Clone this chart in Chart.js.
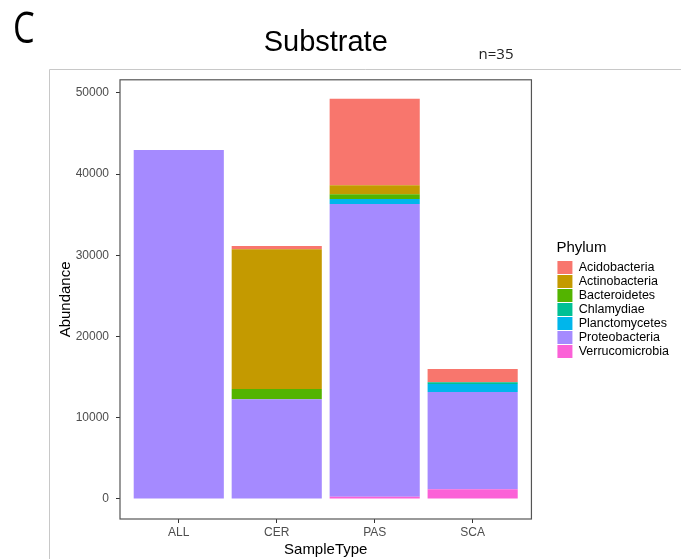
<!DOCTYPE html>
<html>
<head>
<meta charset="utf-8">
<title>Substrate</title>
<script src="https://cdn.jsdelivr.net/npm/chart.js@4.4.1/dist/chart.umd.min.js"></script>
<style>
  html, body { margin: 0; padding: 0; background: #fff; }
  #chart { display: block; }
</style>
</head>
<body>
<canvas id="chart" width="681" height="559"></canvas>
<script>
// Sample types along the x axis
const sampleTypes = ['ALL', 'CER', 'PAS', 'SCA'];

// Abundance per phylum, one value per sample type
const acidobacteria   = [0, 400, 10660, 1640];
const actinobacteria  = [0, 17220, 1100, 0];
const bacteroidetes   = [0, 1270, 575, 0];
const chlamydiae      = [0, 0, 0, 210];
const planctomycetes  = [0, 0, 620, 980];
const proteobacteria  = [42960, 12260, 36040, 11970];
const verrucomicrobia = [0, 0, 280, 1190];

const yTicks = [0, 10000, 20000, 30000, 40000, 50000];

// Listed top of stack first (legend order); drawn bottom-up below
const phyla = [
  { name: 'Acidobacteria',   values: acidobacteria,   color: '#F8766D' },
  { name: 'Actinobacteria',  values: actinobacteria,  color: '#C49A00' },
  { name: 'Bacteroidetes',   values: bacteroidetes,   color: '#53B400' },
  { name: 'Chlamydiae',      values: chlamydiae,      color: '#00C094' },
  { name: 'Planctomycetes',  values: planctomycetes,  color: '#00B6EB' },
  { name: 'Proteobacteria',  values: proteobacteria,  color: '#A58AFF' },
  { name: 'Verrucomicrobia', values: verrucomicrobia, color: '#FB61D7' },
];

Chart.defaults.font.family = "'Liberation Sans', Arial, sans-serif";

const datasets = phyla.slice().reverse().map(p => ({
  label: p.name,
  data: p.values.map((v, i) => ({ x: i + 1, y: v })),
  backgroundColor: p.color,
  borderWidth: 0,
  categoryPercentage: 1,
  barPercentage: 0.92,
}));

// White page, figure frame, panel border and the extra labels
const decorations = {
  id: 'decorations',
  beforeDraw(chart) {
    const ctx = chart.ctx;
    ctx.save();
    ctx.fillStyle = '#fff';
    ctx.fillRect(0, 0, chart.width, chart.height);
    ctx.strokeStyle = '#c8c8c8';
    ctx.lineWidth = 1;
    ctx.beginPath();
    ctx.moveTo(681, 69.5);
    ctx.lineTo(49.5, 69.5);
    ctx.lineTo(49.5, 559);
    ctx.stroke();
    ctx.restore();
  },
  afterDraw(chart) {
    const ctx = chart.ctx;
    const a = chart.chartArea;
    ctx.save();
    ctx.strokeStyle = '#555';
    ctx.lineWidth = 1.2;
    ctx.strokeRect(a.left, a.top, a.right - a.left, a.bottom - a.top);

    ctx.fillStyle = '#000';
    ctx.textBaseline = 'middle';
    ctx.save();
    ctx.translate(13, 31);
    ctx.scale(0.8, 1);
    ctx.font = "43px 'Open Sans', sans-serif";
    ctx.fillText('C', 0, 0);
    ctx.restore();

    ctx.fillStyle = '#222';
    ctx.font = "15px 'Open Sans', sans-serif";
    ctx.textAlign = 'center';
    ctx.fillText('n=35', 496, 55);
    ctx.restore();
  }
};

new Chart(document.getElementById('chart'), {
  type: 'bar',
  data: { datasets },
  plugins: [decorations],
  options: {
    responsive: false,
    animation: false,
    layout: { padding: { left: 49, right: 2, top: 0, bottom: 0 } },
    plugins: {
      title: {
        display: true,
        text: 'Substrate',
        fullSize: false,
        color: '#000',
        font: { size: 29, weight: 'normal' },
        padding: { top: 26, bottom: 19 },
      },
      legend: {
        position: 'right',
        fullSize: false,
        reverse: true,
        title: {
          display: true,
          text: 'Phylum',
          position: 'start',
          color: '#000',
          font: { size: 15 },
          padding: { top: 0, bottom: 2 },
        },
        labels: {
          boxWidth: 15,
          boxHeight: 13,
          padding: 1,
          color: '#000',
          font: { size: 12.5 },
        },
      },
      tooltip: { enabled: false },
    },
    scales: {
      x: {
        type: 'linear',
        stacked: true,
        offset: false,
        min: 0.4,
        max: 4.6,
        afterBuildTicks: s => { s.ticks = sampleTypes.map((c, i) => ({ value: i + 1 })); },
        afterFit: s => { s.height = 40; },
        ticks: {
          autoSkip: false,
          maxRotation: 0,
          padding: 2,
          color: '#4d4d4d',
          font: { size: 12 },
          callback: v => sampleTypes[Math.round(v) - 1],
        },
        grid: { offset: false, drawOnChartArea: false, tickLength: 4, color: '#333' },
        border: { display: false },
        title: {
          display: true,
          text: 'SampleType',
          color: '#000',
          font: { size: 15 },
          padding: { top: 0, bottom: 0 },
        },
      },
      y: {
        stacked: true,
        min: -2470,
        max: 51600,
        afterBuildTicks: s => { s.ticks = yTicks.map(v => ({ value: v })); },
        afterFit: s => { s.width = 71; },
        ticks: {
          padding: 7,
          color: '#4d4d4d',
          font: { size: 12 },
          callback: v => String(v),
        },
        grid: { drawOnChartArea: false, tickLength: 4, color: '#333' },
        border: { display: false },
        title: {
          display: true,
          text: 'Abundance',
          color: '#000',
          font: { size: 15 },
          padding: { top: 8, bottom: 0 },
        },
      },
      // hidden axis that only keeps the legend clear of the panel
      gap: {
        position: 'right',
        display: false,
        afterFit: s => { s.width = 25; },
      },
    },
  },
});
</script>
</body>
</html>
